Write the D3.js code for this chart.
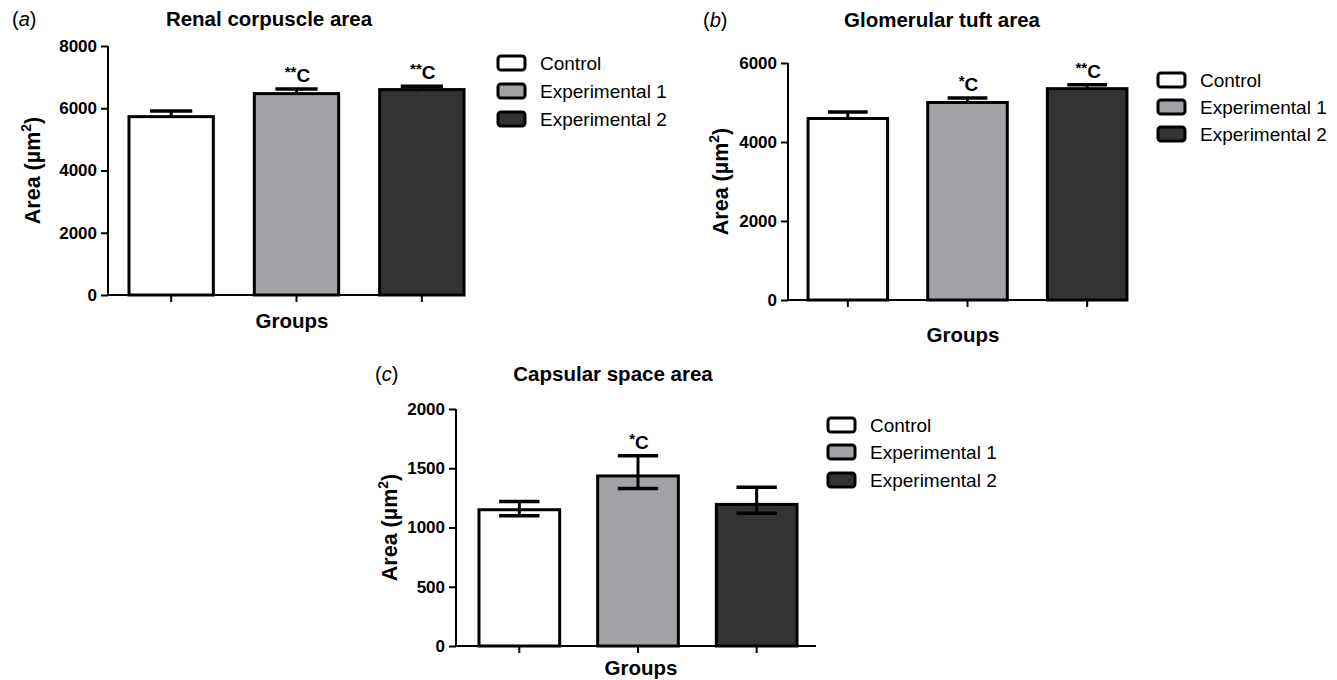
<!DOCTYPE html>
<html>
<head>
<meta charset="utf-8">
<script src="https://cdn.jsdelivr.net/npm/d3@7/dist/d3.min.js"></script>
<style>
  body { margin: 0; background: #fff; }
  text { font-family: "Liberation Sans", Arial, sans-serif; fill: #000; }
</style>
</head>
<body>
<div id="chart"></div>
<script>
// groups and colours
var groups = ["Control", "Experimental 1", "Experimental 2"];
var fills = ["#ffffff", "#a2a1a6", "#333333"];

// (a) renal corpuscle area
var renalMean = [5730, 6470, 6600];
var renalErr = [180, 150, 110];
var renalMarks = ["", "**C", "**C"];
var renalTicks = [0, 2000, 4000, 6000, 8000];

// (b) glomerular tuft area
var tuftMean = [4595, 5000, 5350];
var tuftErr = [165, 115, 100];
var tuftMarks = ["", "*C", "**C"];
var tuftTicks = [0, 2000, 4000, 6000];

// (c) capsular space area
var capsMean = [1150, 1435, 1195];
var capsErrUp = [70, 170, 145];
var capsErrDown = [50, 105, 75];
var capsMarks = ["", "*C", ""];
var capsTicks = [0, 500, 1000, 1500, 2000];

var svg = d3.select("#chart").append("svg").attr("width", 1337).attr("height", 680);

function drawPanel(p) {
  var g = svg.append("g");
  var yScale = d3.scaleLinear().domain([0, p.ymax]).range([p.y0, p.y1]);
  var xScale = d3.scaleBand().domain(groups).range(p.band).paddingInner(p.pad).paddingOuter(p.pad / 2);
  var bw = xScale.bandwidth();

  // panel letter
  var lab = g.append("text").attr("x", p.letterX).attr("y", p.titleY).attr("font-size", 20);
  lab.append("tspan").text("(");
  lab.append("tspan").text(p.letter).attr("font-style", "italic");
  lab.append("tspan").text(")");

  // title
  g.append("text").text(p.title).attr("x", p.titleX).attr("y", p.titleY)
    .attr("text-anchor", "middle").attr("font-size", 20.5).attr("font-weight", "bold");

  // bars
  g.selectAll(".bar").data(p.mean).enter().append("rect")
    .attr("x", function(d, i) { return xScale(groups[i]); })
    .attr("y", function(d) { return yScale(d); })
    .attr("width", bw)
    .attr("height", function(d) { return yScale(0) - yScale(d); })
    .attr("fill", function(d, i) { return fills[i]; })
    .attr("stroke", "#000").attr("stroke-width", 3);

  // error bars
  p.mean.forEach(function(m, i) {
    var cx = xScale(groups[i]) + bw / 2;
    var top = m + p.errUp[i];
    var bot = p.errDown ? m - p.errDown[i] : m;
    g.append("line").attr("x1", cx).attr("x2", cx).attr("y1", yScale(top)).attr("y2", yScale(bot))
      .attr("stroke", "#000").attr("stroke-width", 3);
    g.append("line").attr("x1", cx - bw / 4).attr("x2", cx + bw / 4).attr("y1", yScale(top)).attr("y2", yScale(top))
      .attr("stroke", "#000").attr("stroke-width", 3.5);
    if (p.errDown) {
      g.append("line").attr("x1", cx - bw / 4).attr("x2", cx + bw / 4).attr("y1", yScale(bot)).attr("y2", yScale(bot))
        .attr("stroke", "#000").attr("stroke-width", 3.5);
    }
    // significance mark
    var mk = p.marks[i];
    if (mk) {
      var stars = mk.replace("C", "");
      var t = g.append("text").attr("x", cx + 1).attr("y", yScale(top) - 7)
        .attr("text-anchor", "middle").attr("font-weight", "bold").attr("font-size", 19);
      t.append("tspan").text(stars).attr("font-size", 15).attr("dy", -5);
      t.append("tspan").text("C").attr("dy", 5);
    }
  });

  // y axis
  var yAxis = d3.axisLeft(yScale).tickValues(p.ticks).tickSize(7).tickPadding(4).tickFormat(d3.format("d"));
  var ya = g.append("g").attr("transform", "translate(" + p.x0 + ",0)").call(yAxis);
  ya.select(".domain").attr("stroke-width", 2).attr("d", "M0," + p.y0 + "V" + p.y1).attr("stroke", "#000");
  ya.selectAll(".tick line").attr("stroke-width", 2).attr("stroke", "#000");
  ya.selectAll(".tick text").attr("font-size", 17).attr("font-weight", "bold")
    .attr("font-family", "Liberation Sans, Arial, sans-serif").attr("fill", "#000");

  // x axis
  var xAxis = d3.axisBottom(xScale).tickSize(7).tickFormat("");
  var xa = g.append("g").attr("transform", "translate(0," + p.y0 + ")").call(xAxis);
  xa.select(".domain").attr("stroke-width", 2).attr("d", "M" + p.x0 + ",0H" + p.x1).attr("stroke", "#000");
  xa.selectAll(".tick line").attr("stroke-width", 2).attr("stroke", "#000");

  // axis titles
  g.append("text").text("Groups").attr("x", p.groupsX).attr("y", p.groupsY)
    .attr("text-anchor", "middle").attr("font-size", 20.5).attr("font-weight", "bold");
  var yl = g.append("text").attr("transform", "translate(" + p.ylabX + "," + ((p.y0 + p.y1) / 2) + ") rotate(-90)")
    .attr("text-anchor", "middle").attr("font-size", 21.5).attr("font-weight", "bold");
  yl.append("tspan").text("Area (\u00b5m");
  yl.append("tspan").text("2").attr("font-size", 14).attr("dy", -9);
  yl.append("tspan").text(")").attr("dy", 9);

  // legend
  var lg = g.append("g");
  groups.forEach(function(name, i) {
    var ly = p.legY[i];
    lg.append("rect").attr("x", p.legX).attr("y", ly - 7).attr("width", 27).attr("height", 14)
      .attr("rx", 3).attr("fill", fills[i]).attr("stroke", "#000").attr("stroke-width", 3);
    lg.append("text").text(name).attr("x", p.legX + 42).attr("y", ly).attr("dy", "0.35em").attr("font-size", 19);
  });
}

drawPanel({
  letter: "a", title: "Renal corpuscle area", letterX: 12, titleX: 269, titleY: 26,
  mean: renalMean, errUp: renalErr, errDown: null, marks: renalMarks, ticks: renalTicks, ymax: 8000,
  x0: 108, x1: 465, y0: 295, y1: 46, band: [108.5, 484.5], pad: 0.327,
  groupsX: 292, groupsY: 328, ylabX: 40, legX: 498, legY: [63, 91, 119]
});

drawPanel({
  letter: "b", title: "Glomerular tuft area", letterX: 703, titleX: 942, titleY: 27,
  mean: tuftMean, errUp: tuftErr, errDown: null, marks: tuftMarks, ticks: tuftTicks, ymax: 6000,
  x0: 788, x1: 1127, y0: 300, y1: 63, band: [788, 1147], pad: 0.335,
  groupsX: 963, groupsY: 342, ylabX: 728, legX: 1158, legY: [80, 107, 134]
});

drawPanel({
  letter: "c", title: "Capsular space area", letterX: 375, titleX: 613, titleY: 381,
  mean: capsMean, errUp: capsErrUp, errDown: capsErrDown, marks: capsMarks, ticks: capsTicks, ymax: 2000,
  x0: 456, x1: 816, y0: 646, y1: 409, band: [460, 816], pad: 0.32,
  groupsX: 641, groupsY: 675, ylabX: 397, legX: 828, legY: [425, 452, 480]
});
</script>
</body>
</html>
